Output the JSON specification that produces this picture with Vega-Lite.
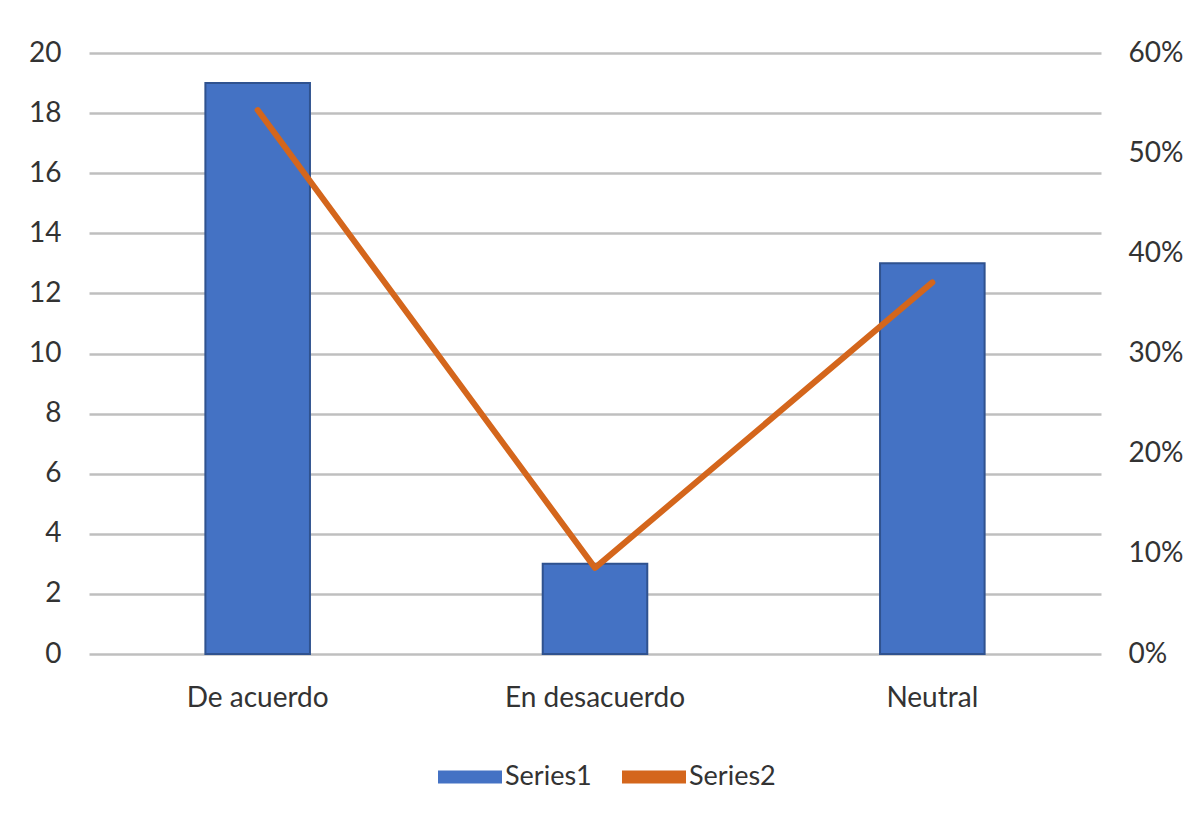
{
  "$schema": "https://vega.github.io/schema/vega-lite/v6.json",
  "width": 1012,
  "height": 601,
  "autosize": {"type": "none"},
  "padding": {"left": 89, "top": 53, "right": 92, "bottom": 170},
  "background": "white",
  "config": {
    "view": {"stroke": null},
    "font": "Lato",
    "axis": {"labelFont": "Lato", "labelFontSize": 28, "labelColor": "#333333", "labelLimit": 0},
    "legend": {"labelFont": "Lato", "labelFontSize": 27, "labelColor": "#333333"}
  },
  "data": {
    "values": [
      {"cat": "De acuerdo", "count": 19, "pct": 0.543},
      {"cat": "En desacuerdo", "count": 3, "pct": 0.086},
      {"cat": "Neutral", "count": 13, "pct": 0.371}
    ]
  },
  "encoding": {
    "x": {
      "field": "cat",
      "type": "nominal",
      "sort": null,
      "scale": {"paddingInner": 0.69, "paddingOuter": 0.345},
      "axis": {"title": null, "labelAngle": 0, "domain": false, "ticks": false, "labelPadding": 30}
    }
  },
  "layer": [
    {
      "mark": {"type": "bar", "stroke": "#2F528F", "strokeWidth": 2},
      "encoding": {
        "y": {
          "field": "count",
          "type": "quantitative",
          "scale": {"domain": [0, 20], "nice": false},
          "axis": {
            "title": null,
            "values": [0, 2, 4, 6, 8, 10, 12, 14, 16, 18, 20],
            "domain": false,
            "ticks": false,
            "labelPadding": 28,
            "grid": true,
            "gridColor": "#BFBFBF",
            "gridWidth": 2.5
          }
        },
        "color": {
          "datum": "Series1",
          "scale": {"domain": ["Series1", "Series2"], "range": ["#4472C4", "#D4661C"]},
          "legend": {
            "title": null,
            "orient": "none",
            "direction": "horizontal",
            "legendX": 349,
            "legendY": 692,
            "symbolSize": 4096,
            "labelOffset": 3,
            "columnPadding": 30,
            "symbolType": "M-1,-0.2H1V0.2H-1Z",
            "symbolStrokeWidth": 0
          }
        }
      }
    },
    {
      "mark": {"type": "line", "strokeWidth": 6, "strokeCap": "round", "strokeJoin": "round"},
      "encoding": {
        "y": {
          "field": "pct",
          "type": "quantitative",
          "scale": {"domain": [0, 0.6], "nice": false},
          "axis": {
            "title": null,
            "orient": "right",
            "format": ".0%",
            "values": [0, 0.1, 0.2, 0.3, 0.4, 0.5, 0.6],
            "domain": false,
            "ticks": false,
            "labelPadding": 27,
            "grid": false
          }
        },
        "color": {"datum": "Series2"}
      }
    }
  ],
  "resolve": {"scale": {"y": "independent"}}
}
